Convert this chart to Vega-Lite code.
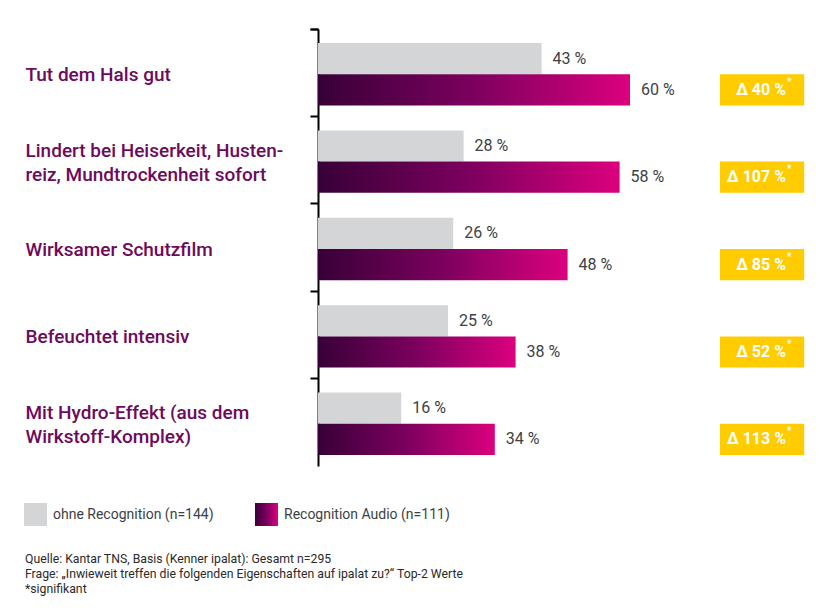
{
  "$schema": "https://vega.github.io/schema/vega-lite/v6.json",
  "width": 500,
  "height": 437,
  "autosize": {"type": "none"},
  "padding": {"left": 318, "top": 29, "right": 18, "bottom": 145},
  "background": "white",
  "config": {"view": {"stroke": null}, "font": "Roboto"},
  "datasets": {
    "bars": [
      {"cat": "Tut dem Hals gut", "series": "ohne Recognition (n=144)", "value": 43, "label": "43 %"},
      {"cat": "Tut dem Hals gut", "series": "Recognition Audio (n=111)", "value": 60, "label": "60 %"},
      {"cat": "Lindert bei Heiserkeit, Husten-\nreiz, Mundtrockenheit sofort", "series": "ohne Recognition (n=144)", "value": 28, "label": "28 %"},
      {"cat": "Lindert bei Heiserkeit, Husten-\nreiz, Mundtrockenheit sofort", "series": "Recognition Audio (n=111)", "value": 58, "label": "58 %"},
      {"cat": "Wirksamer Schutzfilm", "series": "ohne Recognition (n=144)", "value": 26, "label": "26 %"},
      {"cat": "Wirksamer Schutzfilm", "series": "Recognition Audio (n=111)", "value": 48, "label": "48 %"},
      {"cat": "Befeuchtet intensiv", "series": "ohne Recognition (n=144)", "value": 25, "label": "25 %"},
      {"cat": "Befeuchtet intensiv", "series": "Recognition Audio (n=111)", "value": 38, "label": "38 %"},
      {"cat": "Mit Hydro-Effekt (aus dem\nWirkstoff-Komplex)", "series": "ohne Recognition (n=144)", "value": 16, "label": "16 %"},
      {"cat": "Mit Hydro-Effekt (aus dem\nWirkstoff-Komplex)", "series": "Recognition Audio (n=111)", "value": 34, "label": "34 %"}
    ],
    "deltas": [
      {"cat": "Tut dem Hals gut", "series": "Recognition Audio (n=111)", "delta": "Δ 40 %"},
      {"cat": "Lindert bei Heiserkeit, Husten-\nreiz, Mundtrockenheit sofort", "series": "Recognition Audio (n=111)", "delta": "Δ 107 %"},
      {"cat": "Wirksamer Schutzfilm", "series": "Recognition Audio (n=111)", "delta": "Δ 85 %"},
      {"cat": "Befeuchtet intensiv", "series": "Recognition Audio (n=111)", "delta": "Δ 52 %"},
      {"cat": "Mit Hydro-Effekt (aus dem\nWirkstoff-Komplex)", "series": "Recognition Audio (n=111)", "delta": "Δ 113 %"}
    ]
  },
  "data": {"name": "bars"},
  "title": {
    "text": [
      "Quelle: Kantar TNS, Basis (Kenner ipalat): Gesamt n=295",
      "Frage: „Inwieweit treffen die folgenden Eigenschaften auf ipalat zu?“ Top-2 Werte",
      "*signifikant"
    ],
    "orient": "bottom",
    "anchor": "start",
    "frame": "group",
    "dx": -293,
    "offset": 27,
    "fontSize": 12.25,
    "fontWeight": "normal",
    "lineHeight": 14.8,
    "color": "#2a2a2a",
    "baseline": "top"
  },
  "encoding": {
    "y": {
      "field": "cat",
      "type": "nominal",
      "scale": {
        "domain": [
          "Tut dem Hals gut",
          "Lindert bei Heiserkeit, Husten-\nreiz, Mundtrockenheit sofort",
          "Wirksamer Schutzfilm",
          "Befeuchtet intensiv",
          "Mit Hydro-Effekt (aus dem\nWirkstoff-Komplex)"
        ],
        "paddingInner": 0,
        "paddingOuter": 0
      },
      "axis": {
        "title": null,
        "bandPosition": 0,
        "tickExtra": true,
        "domainColor": "#000000",
        "domainWidth": 2,
        "tickColor": "#000000",
        "tickWidth": 2,
        "tickSize": 8,
        "labelAlign": "left",
        "labelBaseline": "middle",
        "labelPadding": 285,
        "labelLimit": 300,
        "labelFontSize": 19,
        "labelFontWeight": 500,
        "labelColor": "#6e0a5c",
        "labelLineHeight": 23.5,
        "labelOffset": {
          "condition": {"test": "isString(datum.value) && indexof(datum.value, '\\n') >= 0", "value": -9},
          "value": 2
        },
        "labelExpr": "split(datum.label, '\\n')"
      }
    },
    "yOffset": {
      "field": "series",
      "type": "nominal",
      "scale": {
        "domain": ["ohne Recognition (n=144)", "Recognition Audio (n=111)"],
        "paddingInner": 0,
        "paddingOuter": 0.4,
        "align": 0.56
      }
    }
  },
  "layer": [
    {
      "transform": [{"filter": "datum.series === 'ohne Recognition (n=144)'"}],
      "mark": {"type": "bar"},
      "encoding": {
        "x": {"field": "value", "type": "quantitative", "scale": {"domain": [0, 96.15], "nice": false}, "axis": null},
        "color": {
          "field": "series",
          "type": "nominal",
          "scale": {"domain": ["ohne Recognition (n=144)"], "range": ["#d4d5d7"]},
          "legend": {
            "orient": "none",
            "legendX": -294,
            "legendY": 474,
            "title": null,
            "symbolType": "square",
            "symbolSize": 529,
            "symbolStrokeWidth": 0,
            "labelFontSize": 14,
            "labelColor": "#3b4245",
            "labelOffset": 6,
            "padding": 0,
            "labelLimit": 300
          }
        }
      }
    },
    {
      "transform": [{"filter": "datum.series === 'Recognition Audio (n=111)'"}],
      "mark": {
        "type": "bar",
        "fill": {
          "gradient": "linear",
          "x1": 0, "y1": 0, "x2": 1, "y2": 0,
          "stops": [
            {"offset": 0, "color": "#380038"},
            {"offset": 0.5, "color": "#7c005e"},
            {"offset": 1, "color": "#dc007f"}
          ]
        }
      },
      "encoding": {
        "x": {"field": "value", "type": "quantitative", "scale": {"domain": [0, 96.15], "nice": false}, "axis": null},
        "opacity": {
          "field": "series",
          "type": "nominal",
          "scale": {"domain": ["Recognition Audio (n=111)"], "range": [1]},
          "legend": {
            "orient": "none",
            "legendX": -63,
            "legendY": 474,
            "title": null,
            "symbolType": "square",
            "symbolSize": 529,
            "symbolStrokeWidth": 0,
            "labelFontSize": 14,
            "labelColor": "#3b4245",
            "labelOffset": 6,
            "padding": 0,
            "labelLimit": 300
          }
        }
      }
    },
    {
      "mark": {"type": "text", "align": "left", "baseline": "middle", "dx": 11, "fontSize": 16, "color": "#3b4245"},
      "encoding": {
        "x": {"field": "value", "type": "quantitative", "scale": {"domain": [0, 96.15], "nice": false}, "axis": null},
        "text": {"field": "label"}
      }
    },
    {
      "data": {"name": "deltas"},
      "mark": {"type": "bar", "fill": "#ffcc00"},
      "encoding": {
        "x": {"datum": 77.3, "type": "quantitative", "scale": {"domain": [0, 96.15], "nice": false}, "axis": null},
        "x2": {"datum": 93.5}
      }
    },
    {
      "data": {"name": "deltas"},
      "mark": {"type": "text", "align": "right", "baseline": "middle", "fontSize": 16, "fontWeight": "bold", "color": "#ffffff"},
      "encoding": {
        "x": {"datum": 90.0, "type": "quantitative", "scale": {"domain": [0, 96.15], "nice": false}, "axis": null},
        "text": {"field": "delta"}
      }
    },
    {
      "data": {"name": "deltas"},
      "mark": {"type": "text", "align": "left", "baseline": "middle", "dy": -8, "dx": 1, "fontSize": 10, "fontWeight": "bold", "color": "#ffffff"},
      "encoding": {
        "x": {"datum": 90.0, "type": "quantitative", "scale": {"domain": [0, 96.15], "nice": false}, "axis": null},
        "text": {"value": "*"}
      }
    }
  ]
}
